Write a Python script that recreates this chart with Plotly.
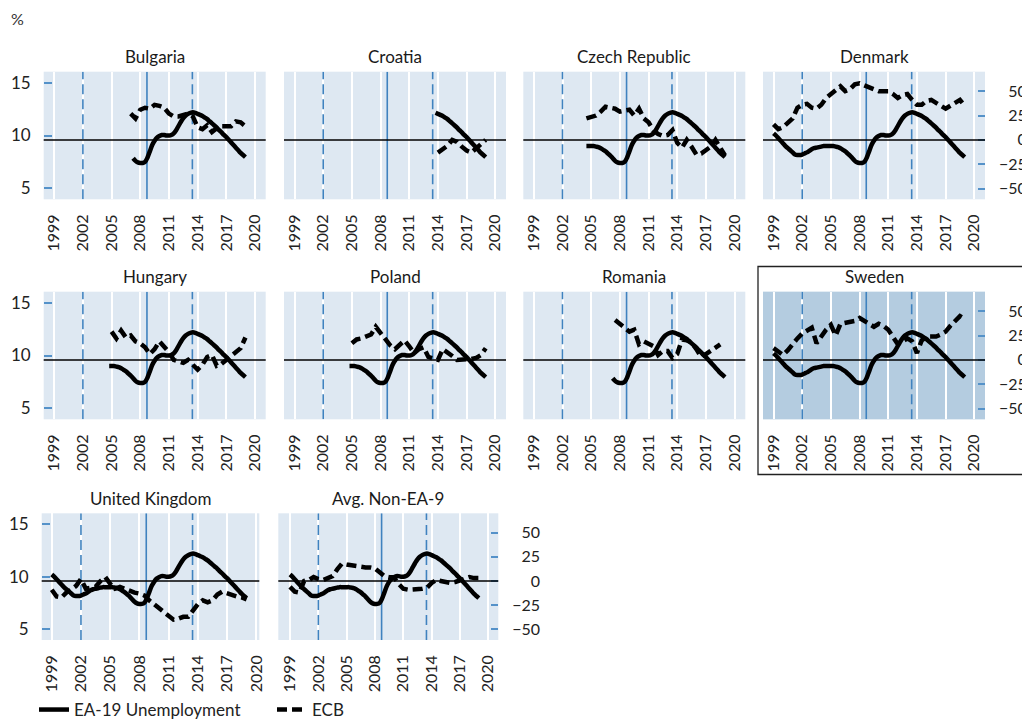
import plotly.graph_objects as go

# The page puts the figure 8px in from the window's top-left corner,
# so the figure is sized to fill the rest of the 1030x719 window.
WIN_W, WIN_H, PAGE_OFF = 1030, 719, 8
W, H = WIN_W - PAGE_OFF, WIN_H - PAGE_OFF

# ---------------- data ----------------
quarters = [1999 + q / 4 for q in range(81)]
ea19_unemployment = [
    10.2, 10.0, 9.75, 9.5,      # 1999
    9.25, 9.0, 8.8, 8.6,        # 2000
    8.4, 8.2, 8.15, 8.15,       # 2001
    8.2, 8.3, 8.4, 8.55,        # 2002
    8.7, 8.8, 8.85, 8.9,        # 2003
    8.95, 9.0, 9.0, 9.0,        # 2004
    9.0, 9.0, 8.95, 8.9,        # 2005
    8.8, 8.65, 8.5, 8.3,        # 2006
    8.1, 7.85, 7.6, 7.45,       # 2007
    7.4, 7.4, 7.5, 7.9,         # 2008
    8.5, 9.1, 9.5, 9.8,         # 2009
    9.95, 10.05, 10.05, 10.0,   # 2010
    10.0, 10.05, 10.2, 10.5,    # 2011
    10.9, 11.3, 11.65, 11.9,    # 2012
    12.05, 12.15, 12.2, 12.15,  # 2013
    12.05, 11.95, 11.85, 11.7,  # 2014
    11.55, 11.35, 11.15, 10.95, # 2015
    10.75, 10.5, 10.3, 10.05,   # 2016
    9.85, 9.6, 9.35, 9.1,       # 2017
    8.85, 8.6, 8.35, 8.15,      # 2018
    7.95,                       # 2019
]

countries = ["Bulgaria", "Croatia", "Czech Republic", "Denmark", "Hungary",
             "Poland", "Romania", "Sweden", "United Kingdom", "Avg. Non-EA-9"]
ea_start = [2007.25, 2013.75, 2004.5, 1999.0, 2004.75,
            2004.75, 2007.25, 1999.0, 1999.0, 1999.0]
ecb_start = [2007.0, 2014.0, 2004.5, 1999.0, 2005.0,
             2005.0, 2007.5, 1999.0, 1999.0, 1999.0]

# ECB series, half-yearly from each country's start
ecb_bulgaria = [27, 22, 31, 33, 32, 36, 35, 33, 27, 24, 24, 25, 27, 24, 13, 11,
                15, 8, 12, 14, 14, 14, 19, 18, 14]
ecb_croatia = [-13, -9, -6, 0, -2, -7, -11, -13, -9, -4, 0]
ecb_czech = [22, 24, 25, 29, 34, 33, 32, 29, 30, 31, 25, 32, 22, 18, 10, 6, 4, 5,
             10, -3, -8, 0, -7, -15, -14, -10, -7, 0, -8, -16]
ecb_denmark = [16, 11, 13, 18, 22, 33, 36, 37, 33, 32, 36, 43, 47, 52, 55, 50, 52,
               57, 58, 56, 54, 52, 50, 50, 50, 47, 43, 46, 47, 41, 36, 36, 40, 41,
               38, 36, 32, 35, 38, 41, 35]
ecb_hungary = [29, 22, 30, 23, 25, 19, 17, 13, 6, 11, 19, 14, 8, 0, -2, -3, 0, -5,
               -10, -5, 3, 5, -6, -4, 0, 4, 9, 12, 23]
ecb_poland = [17, 21, 22, 24, 26, 34, 27, 21, 15, 11, 16, 20, 14, 7, 11, 13, 3, 2,
              0, 11, 8, 4, 0, 0, 0, 1, 2, 5, 12]
ecb_romania = [41, 37, 33, 29, 31, 16, 19, 16, 14, 5, 9, 9, 2, 6, 21, 20, 18, 11,
               3, 6, 9, 12, 16]
ecb_sweden = [12, 9, 5, 10, 17, 22, 27, 30, 33, 17, 25, 31, 36, 25, 37, 38, 39, 40,
              43, 40, 38, 34, 37, 35, 31, 24, 16, 19, 22, 19, 7, 20, 24, 24, 24, 26,
              29, 35, 40, 45, 42]
ecb_uk = [-9, -16, -17, -12, -9, -5, 2, -8, -7, -6, 0, 4, -3, -8, -6, -8, -11, -12,
          -13, -15, -20, -24, -28, -31, -36, -40, -39, -37, -37, -30, -24, -20,
          -22, -20, -14, -11, -13, -15, -16, -17, -19]
ecb_avg = [-6, -11, -12, 0, 1, 4, 2, 1, 3, 5, 12, 18, 17, 16, 16, 15, 14, 14, 13,
           9, 5, 4, 4, -3, -8, -9, -9, -9, -8, -7, -2, 1, 0, -1, -2, -1, 1, 2, 4, 3, 3]

ecb_series = [ecb_bulgaria, ecb_croatia, ecb_czech, ecb_denmark, ecb_hungary,
              ecb_poland, ecb_romania, ecb_sweden, ecb_uk, ecb_avg]

x_ticks = [1999, 2002, 2005, 2008, 2011, 2014, 2017, 2020]
left_ticks = [5, 10, 15]
right_ticks = [-50, -25, 0, 25, 50]
right_ticktext = ["\u221250", "\u221225", "\u2007\u20070", "\u200725", "\u200750"]
event_dates = [2002.0, 2008.7, 2013.45]
event_dash = ["10px,5px", "solid", "10px,5px"]

# ---------------- layout geometry (window pixels) ----------------
LEFT_RANGE = [3.96, 16.04]
RIGHT_RANGE = [-61, 70]
panel_box = [
    (43.7, 265.7, 71.7, 199.3), (284.0, 506.0, 71.7, 199.3),
    (523.3, 745.3, 71.7, 199.3), (763.0, 985.0, 71.7, 199.3),
    (43.7, 265.7, 291.7, 419.3), (284.0, 506.0, 291.7, 419.3),
    (523.3, 745.3, 291.7, 419.3), (763.0, 985.0, 291.7, 419.3),
    (41.7, 259.3, 513.3, 640.0), (278.3, 498.3, 513.3, 640.0),
]
x_range = [[1997.9, 2021.12]] * 8 + [[1997.97, 2020.3], [1997.76, 2021.06]]
right_label_panels = {3, 7, 9}
left_label_panels = {0, 4, 8}

FONT = "Lato"
BG = "#dee8f2"
BG_HI = "#b4cce0"
EVENT = "#3f82bf"
TICKC = "#5592c9"


def px(xw):
    return (xw - PAGE_OFF) / W


def py(yw):
    return 1 - (yw - PAGE_OFF) / H


def aid(prefix, n):
    return prefix if n == 1 else f"{prefix}{n}"


fig = go.Figure()
layout = dict(
    width=W, height=H,
    margin=dict(l=0, r=0, t=0, b=0, autoexpand=False),
    paper_bgcolor="white", plot_bgcolor=BG,
    font=dict(family=FONT, size=16, color="#222"),
    showlegend=True,
)
shapes, annotations = [], []

for i, name in enumerate(countries):
    L, R, T, B = panel_box[i]
    nx, nl, nr = i + 1, 2 * i + 1, 2 * i + 2
    xa, yl, yr = aid("x", nx), aid("y", nl), aid("y", nr)
    x0p, x1p = px(L), px(R)
    y0p, y1p = py(B), py(T)

    layout[aid("xaxis", nx)] = dict(
        domain=[x0p, x1p], anchor=yl, range=x_range[i], automargin=False,
        tickmode="array", tickvals=x_ticks, ticktext=[str(v) for v in x_ticks],
        tickangle=-90, ticks="", showgrid=True, gridcolor="white", gridwidth=1.6,
        zeroline=False, showline=False, ticklabelstandoff=11,
        tickfont=dict(size=16, color="#222"),
    )
    show_left = i in left_label_panels
    layout[aid("yaxis", nl)] = dict(
        domain=[y0p, y1p], anchor=xa, range=LEFT_RANGE, automargin=False,
        tickmode="array", tickvals=left_ticks, showgrid=False, zeroline=False,
        showline=False, showticklabels=show_left,
        ticks="inside" if show_left else "", ticklen=8, tickwidth=1.5, tickcolor=TICKC,
        ticklabelstandoff=12, tickfont=dict(size=17, color="#222"),
    )
    show_right = i in right_label_panels
    layout[aid("yaxis", nr)] = dict(
        overlaying=yl, side="right", anchor=xa, range=RIGHT_RANGE, automargin=False,
        tickmode="array", tickvals=right_ticks, ticktext=right_ticktext,
        showgrid=False, zeroline=False, showline=False, showticklabels=show_right,
        ticks="inside" if show_right else "", ticklen=7, tickwidth=1.5, tickcolor=TICKC,
        ticklabelstandoff=13, tickfont=dict(size=16, color="#222"),
    )

    if name == "Sweden":
        shapes.append(dict(type="rect", xref=f"{xa} domain", yref=f"{yl} domain",
                           x0=0, x1=1, y0=0, y1=1, fillcolor=BG_HI,
                           line=dict(width=0), layer="below"))

    # event markers (vertical reference lines), drawn under the data
    for ev, dsh in zip(event_dates, event_dash):
        fig.add_trace(go.Scatter(
            x=[ev, ev], y=LEFT_RANGE, xaxis=xa, yaxis=yl, mode="lines",
            line=dict(color=EVENT, width=1.6, dash=dsh),
            showlegend=False, hoverinfo="skip",
        ))

    shapes.append(dict(type="line", xref=f"{xa} domain", yref=yr,
                       x0=0, x1=1, y0=0, y1=0,
                       line=dict(color="black", width=1.5), layer="above"))

    # EA-19 unemployment
    k0 = int(round((ea_start[i] - 1999) * 4))
    fig.add_trace(go.Scatter(
        x=quarters[k0:], y=ea19_unemployment[k0:], xaxis=xa, yaxis=yl,
        mode="lines", line=dict(color="black", width=4.5, shape="spline", smoothing=0.8),
        name="EA-19 Unemployment", legendgroup="ea", showlegend=(i == 0),
        hoverinfo="skip",
    ))
    vals = ecb_series[i]
    xs = [ecb_start[i] + 0.5 * k for k in range(len(vals))]
    fig.add_trace(go.Scatter(
        x=xs, y=vals, xaxis=xa, yaxis=yr,
        mode="lines", line=dict(color="black", width=4.5, dash="10px,5px"),
        name="ECB", legendgroup="ecb", showlegend=(i == 0),
        hoverinfo="skip",
    ))

    annotations.append(dict(
        text=name, xref="paper", yref="paper",
        x=(x0p + x1p) / 2, y=py(T - 15),
        xanchor="center", yanchor="middle", showarrow=False,
        font=dict(size=17, color="#1a1a1a", family=FONT),
    ))

# Sweden highlight border
shapes.append(dict(type="rect", xref="paper", yref="paper",
                   x0=px(758), x1=px(1029), y0=py(474.5), y1=py(266.5),
                   line=dict(color="#222", width=1.3), fillcolor="rgba(0,0,0,0)"))

annotations.append(dict(text="%", xref="paper", yref="paper", x=px(9), y=py(18),
                        xanchor="left", yanchor="middle", showarrow=False,
                        font=dict(size=16, color="#333", family=FONT)))

layout["shapes"] = shapes
layout["annotations"] = annotations
layout["legend"] = dict(
    orientation="h", x=px(34), xanchor="left", y=py(710), yanchor="middle",
    font=dict(size=17, color="#222", family=FONT), bgcolor="rgba(0,0,0,0)",
    entrywidth=193, entrywidthmode="pixels", itemwidth=30,
)
fig.update_layout(**layout)
fig.write_html("out.html")
